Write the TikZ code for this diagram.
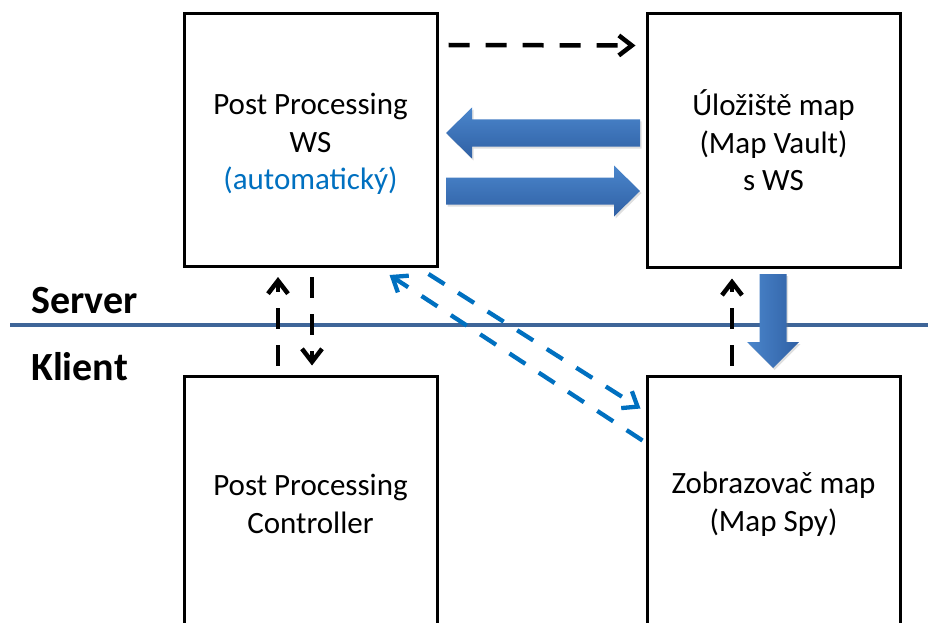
\documentclass[tikz,border=0pt]{standalone}
\usepackage{fontspec}
\setmainfont{Carlito}
\usetikzlibrary{arrows.meta,shadows,calc}
\definecolor{lineblue}{RGB}{62,101,152}
\definecolor{dblue}{RGB}{0,112,192}
\definecolor{atop}{RGB}{74,134,204}
\definecolor{abot}{RGB}{48,96,164}
\tikzset{
  box/.style={draw, line width=3pt, minimum width=253pt, minimum height=253pt,
    inner sep=0pt, align=center, font=\fontsize{31pt}{37.5pt}\selectfont},
  boxtext/.style={inner sep=0pt, align=center, font=\fontsize{31pt}{37.5pt}\selectfont},
  lbl/.style={inner sep=0pt, font=\bfseries\fontsize{40pt}{45pt}\selectfont, anchor=base west},
  dashblk/.style={black, line width=4.5pt, dash pattern=on 21pt off 16pt,
    -{Straight Barb[length=13pt,width=20pt]}},
  dashblu/.style={dblue, line width=4.3pt, dash pattern=on 19pt off 16pt,
    -{Straight Barb[length=13pt,width=20pt]}},
  blockarrow/.style={top color=atop, bottom color=abot, draw=none,
    drop shadow={opacity=0.25, shadow xshift=1.5pt, shadow yshift=-2pt}},
  blockarrowv/.style={left color=atop, right color=abot, draw=none,
    drop shadow={opacity=0.25, shadow xshift=1.5pt, shadow yshift=-2pt}},
}
\begin{document}
\begin{tikzpicture}[x=1pt,y=-1pt]
\useasboundingbox (0,0) rectangle (928,623);
\clip (0,0) rectangle (928,623);

% server / client separator
\draw[lineblue, line width=4pt] (10,325) -- (928,325);
\node[lbl] (server) at (31,313) {Server};
\node[lbl] (klient) at (31,380) {Klient};

% boxes
\node[box] (tl) at (310.5,140) {};
\node[boxtext] (tltext) at (310.5,144) {Post Processing\\WS\\\textcolor{dblue}{(automatický)}};
\node[box] (tr) at (773.5,140.5) {Úložiště map\\(Map Vault)\\s WS};
\node[box, minimum height=256pt] (bl) at (310.5,504) {Post Processing\\Controller};
\node[box, minimum height=256pt] (br) at (773.5,504) {Zobrazovač map\\(Map Spy)};

% block arrows
\path[blockarrow] (640,119.5) -- (472,119.5) -- (472,107.5) -- (446,133) -- (472,158.5)
  -- (472,146.5) -- (640,146.5) -- cycle;
\path[blockarrow] (446,177.5) -- (614,177.5) -- (614,165.5) -- (640,191) -- (614,216.5)
  -- (614,204.5) -- (446,204.5) -- cycle;
\path[blockarrowv] (759.5,274) -- (786.5,274) -- (786.5,342) -- (799,342) -- (773,368)
  -- (747,342) -- (759.5,342) -- cycle;

% dashed connectors
\draw[dashblk] ([xshift=10pt,yshift=-33pt]tl.north east) -- ([xshift=-10pt,yshift=-33pt]tr.north west);
\draw[dashblk] ([xshift=-32.5pt,yshift=9pt]bl.north) -- ([xshift=-32.5pt,yshift=-9pt]tl.south);
\draw[dashblk] ([xshift=1.5pt,yshift=-9pt]tl.south) -- ([xshift=1.5pt,yshift=9pt]bl.north);
\draw[dashblk] ([xshift=-41.5pt,yshift=9pt]br.north) -- ([xshift=-41.5pt,yshift=-10pt]tr.south);
\draw[dashblu] ([xshift=-10pt,yshift=-6pt]tl.south east) -- ([xshift=-5pt,yshift=-34pt]br.north west);
\draw[dashblu] ([xshift=-3pt,yshift=-66pt]br.north west) -- ([xshift=-49pt,yshift=-7pt]tl.south east);
\end{tikzpicture}
\end{document}
